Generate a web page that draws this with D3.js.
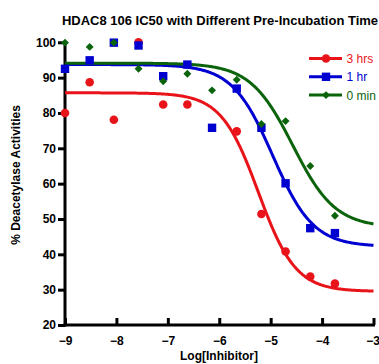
<!DOCTYPE html>
<html>
<head>
<meta charset="utf-8">
<script src="https://cdn.jsdelivr.net/npm/d3@7"></script>
<style>
  body { margin: 0; background: #fff; }
  text { font-family: "Liberation Sans", Arial, sans-serif; }
</style>
</head>
<body>
<div id="chart"></div>
<script>
const W = 379, H = 364;

// log[inhibitor], 3-fold dilutions
const logX = [-9, -8.52, -8.05, -7.57, -7.09, -6.62, -6.14, -5.66, -5.18, -4.71, -4.23, -3.75];
const hrs3 = [80, 88.7, 78.1, 100, 82.4, 82.4, null, 74.8, 51.4, 40.8, 33.7, 31.7];
const hr1  = [92.5, 94.9, 99.9, 99.1, 90.4, 93.7, 75.8, 86.9, 75.8, 60.1, 47.4, 46.0];
const min0 = [99.9, 98.7, 99.9, 92.5, 89.0, 91.1, 86.4, 89.4, 76.9, 77.7, 65.0, 50.9];

// fitted 4PL parameters: [top, bottom, logIC50, hill]
const fit3 = [85.7, 29.5, -5.24, 1.2];
const fit1 = [93.7, 42.2, -4.96, 1.1];
const fit0 = [94.1, 47.6, -4.57, 1.05];

const xTicks = [-9, -8, -7, -6, -5, -4, -3];
const yTicks = [20, 30, 40, 50, 60, 70, 80, 90, 100];

const series = [
  { name: "3 hrs", vals: hrs3, fit: fit3, color: "#e8141a", shape: "circle" },
  { name: "1 hr",  vals: hr1,  fit: fit1, color: "#0000d0", shape: "square" },
  { name: "0 min", vals: min0, fit: fit0, color: "#0b640b", shape: "diamond" }
];

const svg = d3.select("#chart").append("svg").attr("width", W).attr("height", H);

const x = d3.scaleLinear().domain([-9, -3]).range([65, 373.5]);
const y = d3.scaleLinear().domain([20, 100]).range([325, 42.3]);

// title
svg.append("text")
  .attr("x", 220).attr("y", 25)
  .attr("text-anchor", "middle")
  .attr("font-size", 13).attr("font-weight", "bold")
  .text("HDAC8 106 IC50 with Different Pre-Incubation Time");

// axes
const yAxis = svg.append("g").attr("transform", `translate(${x(-9)},0)`)
  .call(d3.axisLeft(y).tickValues(yTicks).tickSize(7).tickPadding(2));
const xAxis = svg.append("g").attr("transform", `translate(0,${y(20)})`)
  .call(d3.axisBottom(x).tickValues(xTicks).tickSize(-7).tickPadding(11).tickFormat(d3.format("d")));

[yAxis, xAxis].forEach(a => {
  a.select(".domain").attr("stroke", "#000").attr("stroke-width", 3);
  a.selectAll(".tick line").attr("stroke", "#000").attr("stroke-width", 3);
  a.selectAll(".tick text").attr("fill", "#000").attr("font-size", 12).attr("font-weight", "bold")
    .style("font-family", "'Liberation Sans', Arial, sans-serif");
});
xAxis.select(".domain").attr("d", `M${x(-9) - 1.5},0H${x(-3) + 1.5}`);
yAxis.select(".domain").attr("d", `M0,${y(100)}V${y(20) + 1.5}`);
xAxis.selectAll(".tick text").attr("dy", "0.71em");
xAxis.selectAll(".tick text").filter(d => d === -3).attr("dx", -1);

// axis titles
svg.append("text")
  .attr("x", 219).attr("y", 360)
  .attr("text-anchor", "middle")
  .attr("font-size", 12).attr("font-weight", "bold")
  .text("Log[Inhibitor]");
svg.append("text")
  .attr("transform", "translate(20,175) rotate(-90)")
  .attr("text-anchor", "middle")
  .attr("font-size", 12).attr("font-weight", "bold")
  .text("% Deacetylase Activities");

// curves
function fourPL(p, v) {
  return p[1] + (p[0] - p[1]) / (1 + Math.pow(10, (v - p[2]) * p[3]));
}
const line = d3.line().x(d => x(d[0])).y(d => y(d[1]));
const xs = d3.range(-9, -2.999, 0.02);

series.forEach(s => {
  svg.append("path")
    .attr("d", line(xs.map(v => [v, fourPL(s.fit, v)])))
    .attr("fill", "none").attr("stroke", s.color).attr("stroke-width", 3);
});

function marker(g, shape, color) {
  if (shape === "circle") g.append("circle").attr("r", 4.3).attr("fill", color);
  else if (shape === "square") g.append("rect").attr("x", -4.2).attr("y", -4.2).attr("width", 8.4).attr("height", 8.4).attr("fill", color);
  else g.append("path").attr("d", d3.symbol(d3.symbolDiamond2, 40)()).attr("fill", color);
}

series.forEach(s => {
  logX.forEach((v, i) => {
    if (s.vals[i] == null) return;
    const g = svg.append("g").attr("transform", `translate(${x(v)},${y(s.vals[i])})`);
    marker(g, s.shape, s.color);
  });
});

// legend
const legend = svg.append("g");
series.forEach((s, i) => {
  const ly = 58.5 + i * 18.3;
  legend.append("line").attr("x1", 309).attr("x2", 342).attr("y1", ly).attr("y2", ly)
    .attr("stroke", s.color).attr("stroke-width", 3);
  const g = legend.append("g").attr("transform", `translate(326,${ly})`);
  marker(g, s.shape, s.color);
  legend.append("text").attr("x", 346.5).attr("y", ly + 4.5)
    .attr("font-size", 12).attr("fill", s.color).text(s.name);
});
</script>
</body>
</html>
